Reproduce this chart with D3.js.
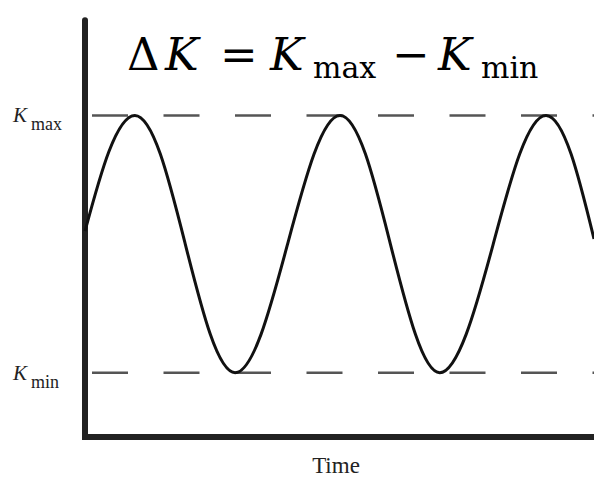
<!DOCTYPE html>
<html>
<head>
<meta charset="utf-8">
<script src="https://cdn.jsdelivr.net/npm/d3@7"></script>
<style>
  body { margin: 0; background: #fff; }
  svg { display: block; }
</style>
</head>
<body>
<div id="chart"></div>
<script>
// Time samples (arbitrary units, axis runs 0..10)
var times = [0, 0.47, 0.98, 1.48, 1.97, 2.46, 2.95, 3.46, 3.98, 4.50, 5.01,
             5.51, 6.00, 6.49, 6.97, 7.49, 8.02, 8.54, 9.06, 9.55, 10];
// K, 0 = Kmin, 1 = Kmax
var kValues = [0.55, 0.86, 1.00, 0.85, 0.50, 0.15, 0.00, 0.15, 0.50, 0.85, 1.00,
               0.85, 0.50, 0.15, 0.00, 0.15, 0.50, 0.85, 1.00, 0.85, 0.52];
// Reference levels
var levels = [{name: "max", k: 1}, {name: "min", k: 0}];
var xLabel = "Time";

var width = 594, height = 484;
var labelFont = "'Liberation Serif', 'Times New Roman', serif";
var mathFont = "'DejaVu Serif', serif";

var svg = d3.select("#chart")
  .append("svg")
    .attr("width", width)
    .attr("height", height);

// Scales
var x = d3.scaleLinear().domain([0, 10]).range([85, 594]);
var y = d3.scaleLinear().domain([-0.25, 1.41]).range([437, 10]);

var data = times.map((t, i) => ({t: t, k: kValues[i]}));

// Dashed Kmax / Kmin lines
svg.selectAll(".level")
  .data(levels)
  .enter()
  .append("line")
    .attr("class", "level")
    .attr("x1", x(0) + 7)
    .attr("x2", x(10))
    .attr("y1", d => y(d.k))
    .attr("y2", d => y(d.k))
    .style("stroke", "#555")
    .style("stroke-width", 2.5)
    .style("stroke-dasharray", "36,35.5");

// Axes (no ticks, just thick lines)
var axisLine = d3.line().x(d => x(d[0])).y(d => y(d[1]));
svg.append("path")
  .attr("d", axisLine([[0, 1.37], [0, -0.25], [10.1, -0.25]]))
  .style("fill", "none")
  .style("stroke", "#222")
  .style("stroke-width", 6)
  .style("stroke-linecap", "round")
  .style("stroke-linejoin", "miter");

// The K curve
var curve = d3.line()
  .x(d => x(d.t))
  .y(d => y(d.k))
  .curve(d3.curveNatural);
svg.append("path")
  .datum(data)
  .attr("d", curve)
  .style("fill", "none")
  .style("stroke", "#111")
  .style("stroke-width", 3);

// Y labels K_max / K_min
levels.forEach(function(l) {
  var t = svg.append("text")
    .attr("y", y(l.k) + 7)
    .style("font-family", labelFont)
    .style("fill", "#222");
  t.append("tspan")
    .attr("x", 13)
    .style("font-style", "italic")
    .style("font-size", "21px")
    .text("K");
  t.append("tspan")
    .attr("x", 31)
    .attr("dy", 8)
    .style("font-size", "18px")
    .text(l.name);
});

// X label
svg.append("text")
  .attr("x", 336)
  .attr("y", 473)
  .style("text-anchor", "middle")
  .style("font-family", labelFont)
  .style("font-size", "23px")
  .style("fill", "#222")
  .text(xLabel);

// Title: ΔK = Kmax − Kmin
var title = svg.append("text")
  .attr("y", 70)
  .style("font-family", mathFont)
  .style("fill", "#000");
var parts = [
  {s: "\u0394", x: 127, size: 45},
  {s: "K", x: 165, size: 45, it: true},
  {s: "=", x: 220, size: 45},
  {s: "K", x: 270, size: 45, it: true},
  {s: "max", x: 313, size: 30, sub: true},
  {s: "\u2212", x: 392, size: 45},
  {s: "K", x: 438, size: 45, it: true},
  {s: "min", x: 481, size: 30, sub: true}
];
parts.forEach(function(p) {
  title.append("tspan")
    .attr("x", p.x)
    .attr("y", p.sub ? 78 : 70)
    .style("font-size", p.size + "px")
    .style("font-style", p.it ? "italic" : "normal")
    .text(p.s);
});
</script>
</body>
</html>
